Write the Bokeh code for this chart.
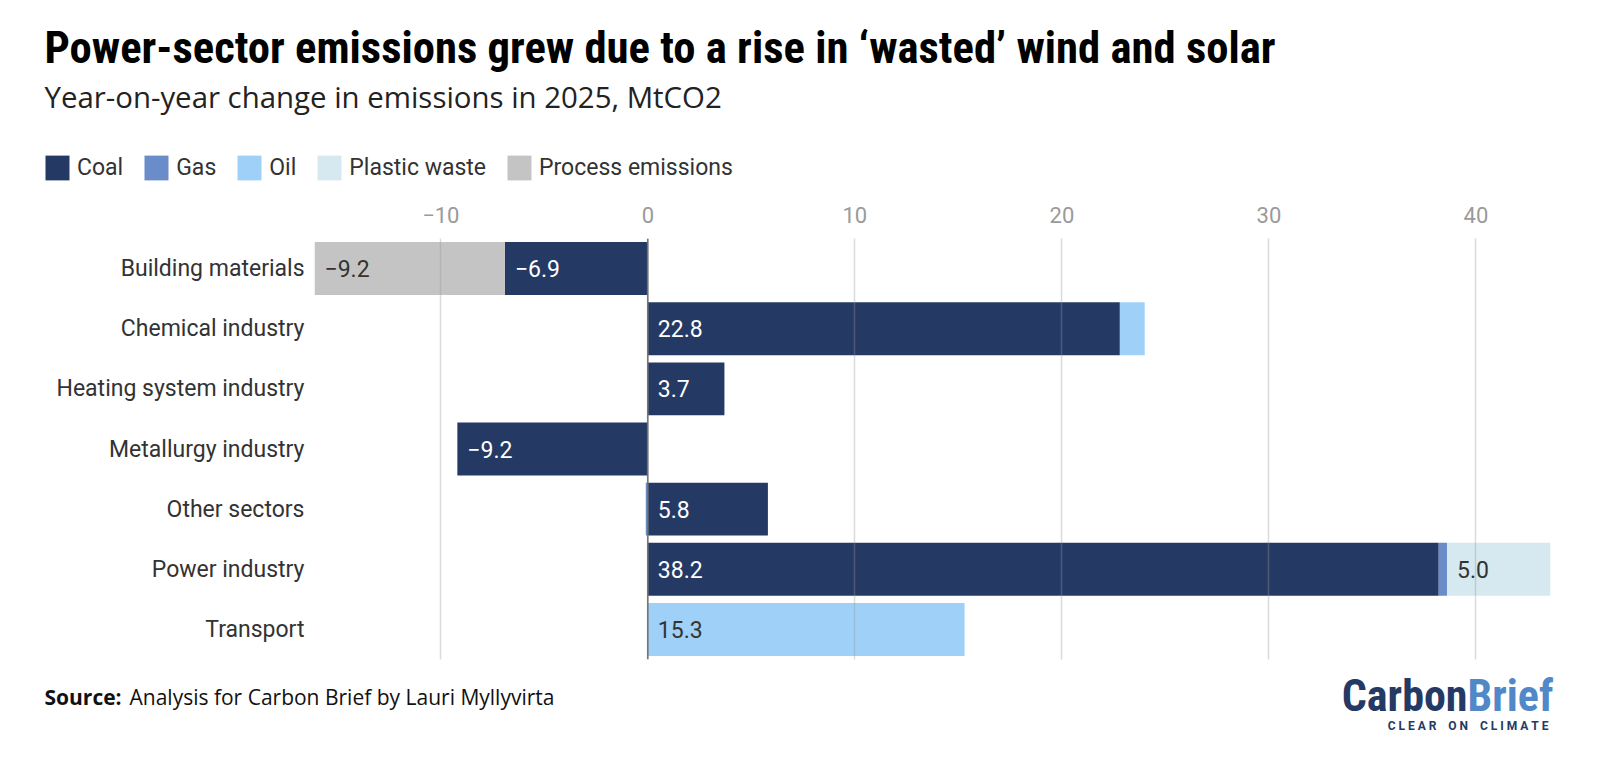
from bokeh.plotting import figure
from bokeh.models import (Range1d, FactorRange, ColumnDataSource, Label, Span,
                          FixedTicker, CustomJSTickFormatter, Legend, LegendItem)
from bokeh.core.properties import value
from bokeh.embed import file_html
from bokeh.resources import INLINE

title = "Power-sector emissions grew due to a rise in \u2018wasted\u2019 wind and solar"
subtitle = "Year-on-year change in emissions in 2025, MtCO2"
source_bold = "Source:"
source_text = "Analysis for Carbon Brief by Lauri Myllyvirta"

sectors = ["Building materials", "Chemical industry", "Heating system industry",
           "Metallurgy industry", "Other sectors", "Power industry", "Transport"]
fuels = ["Coal", "Gas", "Oil", "Plastic waste", "Process emissions"]
coal = [-6.9, 22.8, 3.7, -9.2, 5.8, 38.2, 0.0]
gas = [0.0, 0.0, 0.0, 0.0, -0.1, 0.4, 0.0]
oil = [0.0, 1.2, 0.0, 0.0, 0.0, 0.0, 15.3]
plastic = [0.0, 0.0, 0.0, 0.0, 0.0, 5.0, 0.0]
process = [-9.2, 0.0, 0.0, 0.0, 0.0, 0.0, 0.0]
x_ticks = [-10, 0, 10, 20, 30, 40]
x_min, x_max = -16.1, 43.6

colors = ["#243a64", "#6a8cc9", "#9fd1f8", "#d6e8f0", "#c4c4c4"]
label_colors = ["#ffffff", "#333333", "#333333", "#333333", "#333333"]
series = [coal, gas, oil, plastic, process]

W = 1600
HH = 195            # header height
FL, FR = 314, 1550  # frame left / right (canvas px)
FT, FB = 238, 659   # frame top / bottom (canvas px)
MB = 665            # main figure bottom
FH = 765 - MB       # footer height


def blank(h):
    f = figure(width=W, height=h, x_range=Range1d(0, W), y_range=Range1d(h, 0),
               output_backend="svg", toolbar_location=None, min_border=0,
               title=None)
    f.axis.visible = False
    f.grid.visible = False
    f.outline_line_color = None
    f.background_fill_color = "white"
    f.border_fill_color = "white"
    return f


def lab(f, text, x, y, size, color, style="normal", font="Roboto", align="left",
        baseline="alphabetic"):
    f.add_layout(Label(x=x, y=y, text=text, text_font=font, text_font_size=size,
                       text_color=color, text_font_style=style,
                       text_align=align, text_baseline=baseline))


# ---------------- header (title, subtitle, legend) ----------------
header = blank(HH)
lab(header, title, 44, 47, "44.7px", "#000000", "bold",
    "'Liberation Sans Narrow', 'Roboto Condensed', Roboto")
lab(header, subtitle, 44, 96, "29.4px", "#222222", "normal", "Open Sans")

items = []
for fuel, col in zip(fuels, colors):
    r = header.hbar(y=[0], left=[0], right=[0], height=0, fill_color=col,
                    line_color=None, visible=False)
    items.append(LegendItem(label=fuel, renderers=[r]))
leg = Legend(items=items, orientation="horizontal", location=(42, HH - 183),
             glyph_width=30, glyph_height=31, label_text_font="Roboto",
             label_text_font_size="23px", label_text_color="#333333",
             label_standoff=5, spacing=18, padding=0, margin=0,
             border_line_color=None, background_fill_alpha=0)
header.add_layout(leg, "center")

# ---------------- main chart ----------------
p = figure(width=W, height=MB - HH, x_range=Range1d(x_min, x_max),
           y_range=FactorRange(factors=list(reversed(sectors)), range_padding=0),
           x_axis_location="above", output_backend="svg", toolbar_location=None,
           min_border_left=FL, min_border_right=W - FR, min_border_top=FT - HH,
           min_border_bottom=MB - FB, title=None)
p.outline_line_color = None
p.background_fill_color = "white"
p.border_fill_color = "white"

pos = [0.0] * len(sectors)
neg = [0.0] * len(sectors)
lab_x, lab_y, lab_t, lab_c = [], [], [], []
for fuel, vals, col, lcol in zip(fuels, series, colors, label_colors):
    lefts, rights = [], []
    for i, v in enumerate(vals):
        if v >= 0:
            l, r = pos[i], pos[i] + v
            pos[i] = r
        else:
            l, r = neg[i] + v, neg[i]
            neg[i] = l
        lefts.append(l)
        rights.append(r)
        if abs(v) >= 2:
            lab_x.append(l)
            lab_y.append(sectors[i])
            lab_t.append(f"{v:.1f}".replace("-", "\u2212"))
            lab_c.append(lcol)
    src = ColumnDataSource(dict(y=sectors, left=lefts, right=rights))
    p.hbar(y="y", left="left", right="right", height=0.88, source=src,
           fill_color=col, line_color=None)

lsrc = ColumnDataSource(dict(x=lab_x, y=lab_y, text=lab_t, color=lab_c))
p.text(x="x", y="y", text="text", text_color="color", source=lsrc, x_offset=10,
       text_baseline="middle", text_align="left", text_font=value("Roboto"),
       text_font_size="23px")

xa = p.xaxis[0]
xa.ticker = FixedTicker(ticks=x_ticks)
xa.formatter = CustomJSTickFormatter(
    code="return tick < 0 ? '\\u2212' + Math.abs(tick) : String(tick);")
xa.axis_line_color = None
xa.major_tick_line_color = None
xa.minor_tick_line_color = None
xa.major_label_text_font = "Roboto"
xa.major_label_text_font_size = "22px"
xa.major_label_text_color = "#9a9a9a"
xa.major_label_standoff = 10

ya = p.yaxis[0]
ya.axis_line_color = None
ya.major_tick_line_color = None
ya.minor_tick_line_color = None
ya.major_label_text_font = "Roboto"
ya.major_label_text_font_size = "23px"
ya.major_label_text_color = "#333333"
ya.major_label_standoff = 4

p.ygrid.grid_line_color = None
p.xgrid.ticker = FixedTicker(ticks=x_ticks)
p.xgrid.grid_line_color = "#999999"
p.xgrid.grid_line_alpha = 0.35
p.xgrid.grid_line_width = 1.5
p.xgrid.level = "overlay"

p.add_layout(Span(location=0, dimension="height", line_color="#707070",
                  line_width=1.5, level="overlay"))

# ---------------- footer ----------------
footer = blank(FH)
lab(footer, source_bold, 44, 696 - MB, "21px", "#111111", "bold", "Open Sans")
lab(footer, source_text, 129, 696 - MB, "21px", "#111111", "normal", "Open Sans")
logo_font = "'Liberation Sans Narrow', 'Roboto Condensed', Roboto"
lab(footer, "Carbon", 1467, 695 - MB, "44px", "#243a64", "bold", logo_font, "right")
lab(footer, "Brief", 1467, 695 - MB, "44px", "#5088c8", "bold", logo_font, "left")
nb = "\u00a0"
tag = (nb * 4).join(nb.join(w) for w in ["CLEAR", "ON", "CLIMATE"])
lab(footer, tag, 1548, 725 - MB, "12px", "#243a64", "bold", "Roboto", "right")

open("out.html", "w").write(file_html([header, p, footer], INLINE))
